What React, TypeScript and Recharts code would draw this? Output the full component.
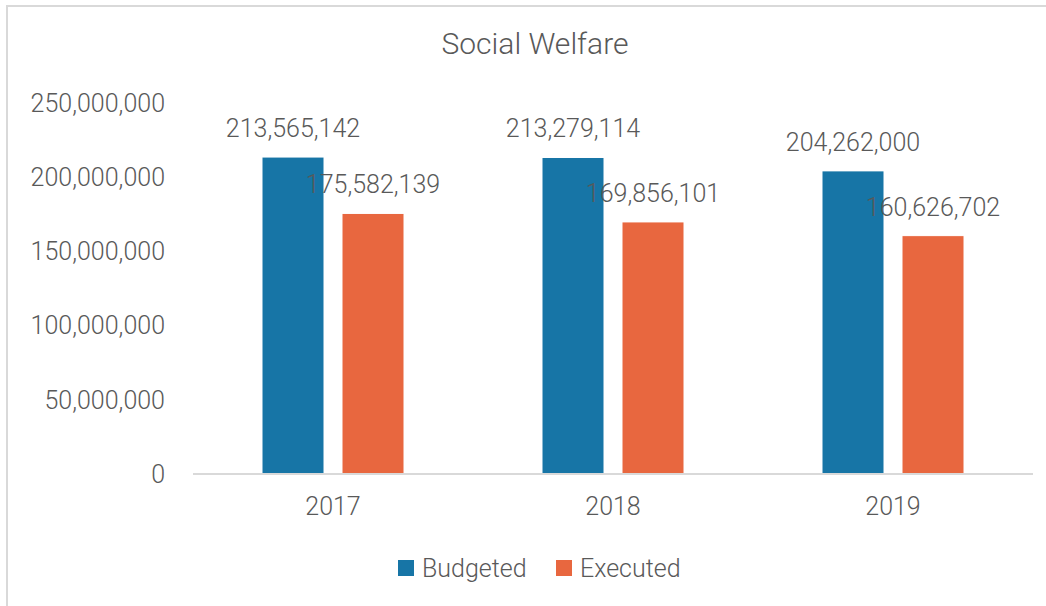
import { BarChart, Bar, XAxis, YAxis, LabelList } from "recharts";

const years = ["2017", "2018", "2019"];
const budgeted = [213565142, 213279114, 204262000];
const executed = [175582139, 169856101, 160626702];
const yTicks = [0, 50000000, 100000000, 150000000, 200000000, 250000000];

const BLUE = "#1775A6";
const ORANGE = "#E8673F";
const TEXT = "#595959";
const FONT = "Roboto, sans-serif";
const FS = 25;

const data = years.map((year, i) => ({
  year,
  budgeted: budgeted[i],
  executed: executed[i],
}));

const fmt = (v: number) => v.toLocaleString("en-US");

const textStyle = { fill: TEXT, fontSize: FS, fontFamily: FONT, fontWeight: 300 };

export default function App() {
  return (
    <div style={{
      position: "absolute",
      left: 0,
      top: 0,
      width: 1046,
      height: 606,
      overflow: "hidden",
      background: "#fff",
      fontFamily: FONT,
      fontWeight: 300,
    }}>
      {/* chart frame, cut off on the right and bottom */}
      <div style={{
        position: "absolute",
        left: 6,
        top: 5,
        width: 1100,
        height: 700,
        border: "2px solid #d9d9d9",
      }} />

      <div style={{
        position: "absolute",
        left: 0,
        width: 1070,
        top: 20,
        textAlign: "center",
        fontSize: 30,
        lineHeight: "48px",
        color: TEXT,
      }}>
        Social Welfare
      </div>

      <div style={{ position: "absolute", left: 0, top: 0 }}>
        <BarChart
          width={1046}
          height={606}
          data={data}
          margin={{ top: 103, right: 13, left: 0, bottom: 0 }}
          barSize={62}
          barGap={18}
        >
          <YAxis
            width={193}
            domain={[0, 250000000]}
            ticks={yTicks}
            tickFormatter={fmt}
            axisLine={false}
            tickLine={false}
            tickSize={0}
            tickMargin={28}
            tick={textStyle}
          />
          <XAxis
            dataKey="year"
            height={132}
            axisLine={{ stroke: "#d9d9d9", strokeWidth: 2 }}
            tickLine={false}
            tickSize={0}
            tickMargin={23}
            tick={textStyle}
          />
          <Bar dataKey="budgeted" fill={BLUE} stroke="#ffffff" strokeWidth={1} isAnimationActive={false}>
            <LabelList
              dataKey="budgeted"
              position="top"
              offset={20}
              formatter={(v: any) => fmt(Number(v))}
              style={textStyle}
            />
          </Bar>
          <Bar dataKey="executed" fill={ORANGE} stroke="#ffffff" strokeWidth={1} isAnimationActive={false}>
            <LabelList
              dataKey="executed"
              position="top"
              offset={20}
              formatter={(v: any) => fmt(Number(v))}
              style={textStyle}
            />
          </Bar>
        </BarChart>
      </div>

      {/* legend */}
      {[
        { label: "Budgeted", color: BLUE, left: 398 },
        { label: "Executed", color: ORANGE, left: 556 },
      ].map(({ label, color, left }) => (
        <div key={label} style={{
          position: "absolute",
          left,
          top: 549,
          height: 38,
          display: "flex",
          alignItems: "center",
          gap: 8,
          fontSize: FS,
          color: TEXT,
        }}>
          <div style={{ width: 16, height: 16, background: color }} />
          <span>{label}</span>
        </div>
      ))}
    </div>
  );
}
